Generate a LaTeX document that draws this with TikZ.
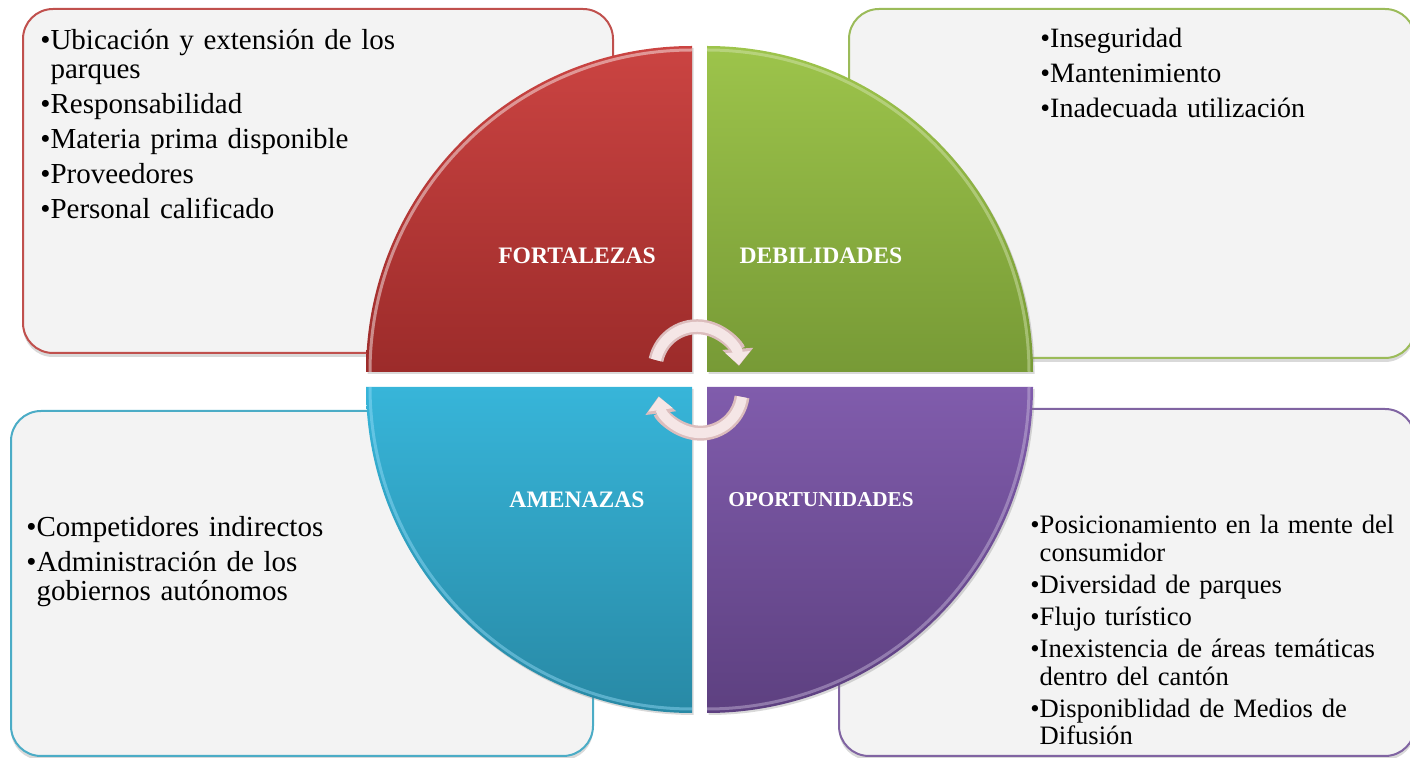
\documentclass[tikz,border=0pt]{standalone}
\usepackage{fontspec}
\setmainfont{Liberation Serif}
\usetikzlibrary{arrows.meta,shadows}
\definecolor{boxfill}{HTML}{F3F3F3}
\definecolor{fRed}{HTML}{C0504D}
\definecolor{dGreen}{HTML}{9BBB59}
\definecolor{aBlue}{HTML}{4BACC6}
\definecolor{oPurple}{HTML}{8064A2}
\definecolor{redTop}{HTML}{CB4442}
\definecolor{redBot}{HTML}{9C2B2A}
\definecolor{greenTop}{HTML}{9DC44B}
\definecolor{greenBot}{HTML}{779A36}
\definecolor{blueTop}{HTML}{37B5D9}
\definecolor{blueBot}{HTML}{2889A5}
\definecolor{purpleTop}{HTML}{805CAC}
\definecolor{purpleBot}{HTML}{5D4080}
\definecolor{arrowpink}{HTML}{F5E6E6}
\definecolor{arrowrim}{HTML}{DCBDBD}
\tikzset{
  box/.style   ={draw, line width=1pt, fill=boxfill, rounded corners=15pt, inner sep=0pt,
                 anchor=north west, drop shadow={shadow xshift=0pt, shadow yshift=-2pt, opacity=0.3}},
  quad/.style  ={drop shadow={shadow xshift=0.8pt, shadow yshift=-1pt, opacity=0.3}},
  gloss/.style ={line width=1.5pt, opacity=0.45},
  head/.style  ={text=white, inner sep=0pt, font=\bfseries\fontsize{11.8}{12}\selectfont},
  txt/.style   ={anchor=base west, inner sep=0pt, text width=230pt, align=left},
  cycrim/.style={-{Triangle[width=15pt,length=8.5pt]}, line width=7.5pt, draw=arrowrim},
  cycarrow/.style={-{Triangle[width=12pt,length=6.5pt]}, line width=5pt, draw=arrowpink}
}
\newcommand{\hb}{\hphantom{\textbullet}}

\begin{document}
\begin{tikzpicture}[x=0.5pt, y=-0.5pt]
    \useasboundingbox (0,0) rectangle (1410,758);
    % text boxes behind the circle
    \node[box, draw=fRed, minimum width=295pt, minimum height=172pt] (fBox) at (22,8) {};
    \node[box, draw=dGreen, minimum width=283pt, minimum height=174.5pt] (dBox) at (848,8) {};
    \node[box, draw=aBlue, minimum width=291pt, minimum height=172.5pt] (aBox) at (10,410) {};
    \node[box, draw=oPurple, minimum width=288pt, minimum height=173.5pt] (oBox) at (838,408) {};
    % quarters of the circle
    \path[quad, top color=redTop, bottom color=redBot]
      (692,372) -- (366,372) arc[start angle=180, end angle=270, radius=326] -- cycle;
    \path[quad, top color=greenTop, bottom color=greenBot]
      (707,372) -- (707,46) arc[start angle=270, end angle=360, radius=326] -- cycle;
    \path[quad, top color=blueTop, bottom color=blueBot]
      (692,387) -- (366,387) arc[start angle=180, end angle=90, radius=326] -- cycle;
    \path[quad, top color=purpleTop, bottom color=purpleBot]
      (707,387) -- (1033,387) arc[start angle=0, end angle=90, radius=326] -- cycle;
    % gloss on the rims
    \draw[gloss, draw=white] (370,372) arc[start angle=180, end angle=270, radius=322];
    \draw[gloss, draw=greenTop!40!white] (707,50) arc[start angle=270, end angle=360, radius=322];
    \draw[gloss, draw=cyan!40!white] (370,387) arc[start angle=180, end angle=90, radius=322];
    \draw[gloss, draw=purpleTop!40!white] (1029,387) arc[start angle=0, end angle=90, radius=322];
    % headings
    \node[head] (fHead) at (577,256) {FORTALEZAS};
    \node[head] (dHead) at (821,256) {DEBILIDADES};
    \node[head] (aHead) at (577,500) {AMENAZAS};
    \node[head, font=\bfseries\fontsize{10.6}{11}\selectfont] (oHead) at (821,500) {OPORTUNIDADES};
    % lists
    \node[txt, font=\fontsize{14.5}{14.5}\selectfont] (fList) at (40,50) {%
      \textbullet Ubicación y extensión de los\\
      \hb parques\\[3pt]
      \textbullet Responsabilidad\\[3pt]
      \textbullet Materia prima disponible\\[3pt]
      \textbullet Proveedores\\[3pt]
      \textbullet Personal calificado};
    \node[txt, font=\fontsize{14}{14}\selectfont] (dList) at (1040,48) {%
      \textbullet Inseguridad\\[3.5pt]
      \textbullet Mantenimiento\\[3.5pt]
      \textbullet Inadecuada utilización};
    \node[txt, font=\fontsize{14.5}{14.5}\selectfont] (aList) at (26,537) {%
      \textbullet Competidores indirectos\\[3pt]
      \textbullet Administración de los\\
      \hb gobiernos autónomos};
    \node[txt, font=\fontsize{13.3}{13.8}\selectfont] (oList) at (1030,534) {%
      \textbullet Posicionamiento en la mente del\\
      \hb consumidor\\[2.2pt]
      \textbullet Diversidad de parques\\[2.2pt]
      \textbullet Flujo turístico\\[2.2pt]
      \textbullet Inexistencia de áreas temáticas\\
      \hb dentro del cantón\\[2.2pt]
      \textbullet Disponiblidad de Medios de\\
      \hb Difusión};
    % cycle arrows in the middle
    \coordinate (cyTop) at (656,360);
    \coordinate (cyBot) at (742,397);
    \draw[cycrim] (cyTop) arc[start angle=192, end angle=356, radius=42];
    \draw[cycarrow] (cyTop) arc[start angle=192, end angle=355, radius=42];
    \draw[cycrim] (cyBot) arc[start angle=8, end angle=173, radius=42];
    \draw[cycarrow] (cyBot) arc[start angle=8, end angle=172, radius=42];
\end{tikzpicture}
\end{document}
